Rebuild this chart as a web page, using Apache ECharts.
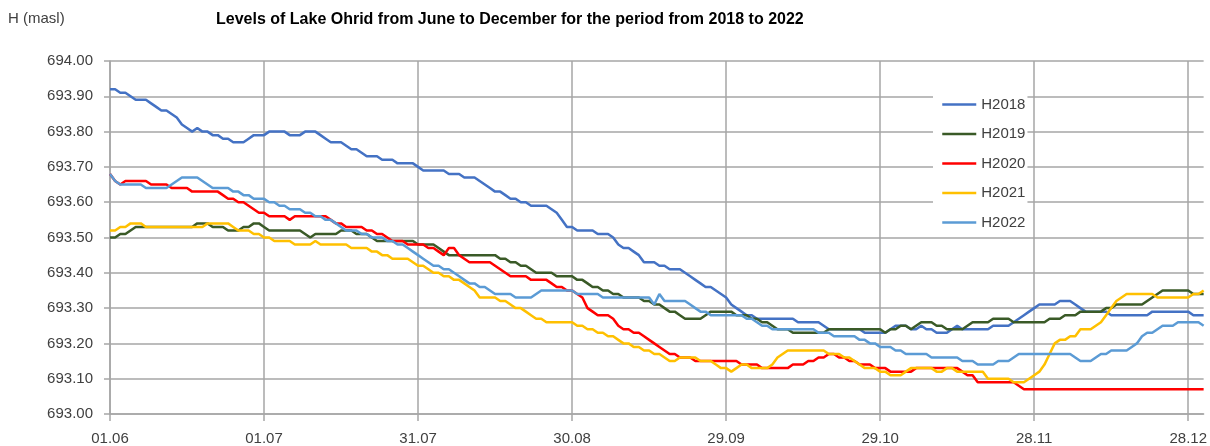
<!DOCTYPE html>
<html>
<head>
<meta charset="utf-8">
<title>Levels of Lake Ohrid</title>
<script src="https://cdn.jsdelivr.net/npm/echarts@6/dist/echarts.min.js"></script>
<style>
  html, body { margin: 0; padding: 0; background: #fff; }
  #chart { width: 1210px; height: 446px; }
</style>
</head>
<body>
<div id="chart"></div>
<script>
// labels shown on the x axis, one every 30 days starting 01.06
const tickLabels = ['01.06', '01.07', '31.07', '30.08', '29.09', '29.10', '28.11', '28.12']
const seriesNames = ['H2018', 'H2019', 'H2020', 'H2021', 'H2022']

// daily lake level (m a.s.l.), 01.06 .. 31.12
const h2018 = [
  693.92, 693.92, 693.91, 693.91, 693.90, 693.89, 693.89, 693.89, 693.88, 693.87,
  693.86, 693.86, 693.85, 693.84, 693.82, 693.81, 693.80, 693.81, 693.80, 693.80,
  693.79, 693.79, 693.78, 693.78, 693.77, 693.77, 693.77, 693.78, 693.79, 693.79,
  693.79, 693.80, 693.80, 693.80, 693.80, 693.79, 693.79, 693.79, 693.80, 693.80,
  693.80, 693.79, 693.78, 693.77, 693.77, 693.77, 693.76, 693.75, 693.75, 693.74,
  693.73, 693.73, 693.73, 693.72, 693.72, 693.72, 693.71, 693.71, 693.71, 693.71,
  693.70, 693.69, 693.69, 693.69, 693.69, 693.69, 693.68, 693.68, 693.68, 693.67,
  693.67, 693.67, 693.66, 693.65, 693.64, 693.63, 693.63, 693.62, 693.61, 693.61,
  693.60, 693.60, 693.59, 693.59, 693.59, 693.59, 693.58, 693.57, 693.55, 693.53,
  693.53, 693.52, 693.52, 693.52, 693.52, 693.51, 693.51, 693.51, 693.50, 693.48,
  693.47, 693.47, 693.46, 693.45, 693.43, 693.43, 693.43, 693.42, 693.42, 693.41,
  693.41, 693.41, 693.40, 693.39, 693.38, 693.37, 693.36, 693.36, 693.35, 693.34,
  693.33, 693.31, 693.30, 693.29, 693.28, 693.28, 693.27, 693.27, 693.27, 693.27,
  693.27, 693.27, 693.27, 693.27, 693.26, 693.26, 693.26, 693.26, 693.26, 693.25,
  693.24, 693.24, 693.24, 693.24, 693.24, 693.24, 693.24, 693.23, 693.23, 693.23,
  693.23, 693.23, 693.24, 693.25, 693.25, 693.25, 693.24, 693.24, 693.25, 693.24,
  693.24, 693.23, 693.23, 693.23, 693.24, 693.25, 693.24, 693.24, 693.24, 693.24,
  693.24, 693.24, 693.25, 693.25, 693.25, 693.25, 693.26, 693.27, 693.28, 693.29,
  693.30, 693.31, 693.31, 693.31, 693.31, 693.32, 693.32, 693.32, 693.31, 693.30,
  693.29, 693.29, 693.29, 693.29, 693.29, 693.28, 693.28, 693.28, 693.28, 693.28,
  693.28, 693.28, 693.28, 693.29, 693.29, 693.29, 693.29, 693.29, 693.29, 693.29,
  693.29, 693.28, 693.28, 693.28
]
const h2019 = [
  693.50, 693.50, 693.51, 693.51, 693.52, 693.53, 693.53, 693.53, 693.53, 693.53,
  693.53, 693.53, 693.53, 693.53, 693.53, 693.53, 693.53, 693.54, 693.54, 693.54,
  693.53, 693.53, 693.53, 693.52, 693.52, 693.52, 693.53, 693.53, 693.54, 693.54,
  693.53, 693.52, 693.52, 693.52, 693.52, 693.52, 693.52, 693.52, 693.51, 693.50,
  693.51, 693.51, 693.51, 693.51, 693.51, 693.52, 693.52, 693.52, 693.51, 693.51,
  693.51, 693.50, 693.49, 693.49, 693.49, 693.49, 693.49, 693.49, 693.49, 693.49,
  693.48, 693.48, 693.48, 693.48, 693.47, 693.46, 693.45, 693.45, 693.45, 693.45,
  693.45, 693.45, 693.45, 693.45, 693.45, 693.45, 693.44, 693.44, 693.43, 693.43,
  693.42, 693.42, 693.41, 693.40, 693.40, 693.40, 693.40, 693.39, 693.39, 693.39,
  693.39, 693.38, 693.38, 693.37, 693.36, 693.36, 693.35, 693.35, 693.34, 693.34,
  693.33, 693.33, 693.33, 693.33, 693.32, 693.32, 693.31, 693.31, 693.30, 693.29,
  693.29, 693.28, 693.27, 693.27, 693.27, 693.27, 693.28, 693.29, 693.29, 693.29,
  693.29, 693.29, 693.28, 693.28, 693.28, 693.27, 693.27, 693.26, 693.26, 693.25,
  693.24, 693.24, 693.24, 693.23, 693.23, 693.23, 693.23, 693.23, 693.23, 693.23,
  693.24, 693.24, 693.24, 693.24, 693.24, 693.24, 693.24, 693.24, 693.24, 693.24,
  693.24, 693.23, 693.24, 693.24, 693.25, 693.25, 693.24, 693.25, 693.26, 693.26,
  693.26, 693.25, 693.25, 693.24, 693.24, 693.24, 693.24, 693.25, 693.26, 693.26,
  693.26, 693.26, 693.27, 693.27, 693.27, 693.27, 693.26, 693.26, 693.26, 693.26,
  693.26, 693.26, 693.26, 693.27, 693.27, 693.27, 693.28, 693.28, 693.28, 693.29,
  693.29, 693.29, 693.29, 693.29, 693.30, 693.30, 693.31, 693.31, 693.31, 693.31,
  693.31, 693.31, 693.32, 693.33, 693.34, 693.35, 693.35, 693.35, 693.35, 693.35,
  693.35, 693.34, 693.34, 693.34
]
const h2020 = [
  693.68, 693.66, 693.65, 693.66, 693.66, 693.66, 693.66, 693.66, 693.65, 693.65,
  693.65, 693.65, 693.64, 693.64, 693.64, 693.64, 693.63, 693.63, 693.63, 693.63,
  693.63, 693.63, 693.62, 693.61, 693.61, 693.60, 693.60, 693.59, 693.58, 693.57,
  693.57, 693.56, 693.56, 693.56, 693.56, 693.55, 693.56, 693.56, 693.56, 693.56,
  693.56, 693.56, 693.56, 693.55, 693.54, 693.54, 693.53, 693.53, 693.53, 693.53,
  693.52, 693.52, 693.51, 693.51, 693.50, 693.49, 693.49, 693.49, 693.48, 693.48,
  693.48, 693.48, 693.47, 693.47, 693.46, 693.45, 693.47, 693.47, 693.45, 693.44,
  693.43, 693.43, 693.43, 693.43, 693.43, 693.42, 693.41, 693.40, 693.39, 693.39,
  693.39, 693.39, 693.38, 693.38, 693.38, 693.38, 693.37, 693.36, 693.36, 693.35,
  693.35, 693.34, 693.33, 693.30, 693.29, 693.28, 693.28, 693.28, 693.27, 693.25,
  693.24, 693.24, 693.23, 693.23, 693.22, 693.21, 693.20, 693.19, 693.18, 693.17,
  693.17, 693.16, 693.16, 693.16, 693.15, 693.15, 693.15, 693.15, 693.15, 693.15,
  693.15, 693.15, 693.15, 693.14, 693.14, 693.14, 693.14, 693.13, 693.13, 693.13,
  693.13, 693.13, 693.13, 693.14, 693.14, 693.14, 693.15, 693.15, 693.16, 693.16,
  693.17, 693.17, 693.16, 693.16, 693.15, 693.15, 693.14, 693.14, 693.14, 693.13,
  693.13, 693.13, 693.12, 693.12, 693.12, 693.12, 693.12, 693.13, 693.13, 693.13,
  693.13, 693.13, 693.13, 693.13, 693.13, 693.13, 693.12, 693.11, 693.11, 693.09,
  693.09, 693.09, 693.09, 693.09, 693.09, 693.09, 693.09, 693.08, 693.07, 693.07,
  693.07, 693.07, 693.07, 693.07, 693.07, 693.07, 693.07, 693.07, 693.07, 693.07,
  693.07, 693.07, 693.07, 693.07, 693.07, 693.07, 693.07, 693.07, 693.07, 693.07,
  693.07, 693.07, 693.07, 693.07, 693.07, 693.07, 693.07, 693.07, 693.07, 693.07,
  693.07, 693.07, 693.07, 693.07
]
const h2021 = [
  693.52, 693.52, 693.53, 693.53, 693.54, 693.54, 693.54, 693.53, 693.53, 693.53,
  693.53, 693.53, 693.53, 693.53, 693.53, 693.53, 693.53, 693.53, 693.53, 693.54,
  693.54, 693.54, 693.54, 693.54, 693.53, 693.52, 693.52, 693.52, 693.51, 693.51,
  693.50, 693.50, 693.49, 693.49, 693.49, 693.49, 693.48, 693.48, 693.48, 693.48,
  693.49, 693.48, 693.48, 693.48, 693.48, 693.48, 693.48, 693.47, 693.47, 693.47,
  693.47, 693.46, 693.46, 693.45, 693.45, 693.44, 693.44, 693.44, 693.44, 693.43,
  693.42, 693.42, 693.41, 693.40, 693.40, 693.39, 693.39, 693.38, 693.38, 693.37,
  693.36, 693.35, 693.33, 693.33, 693.33, 693.33, 693.32, 693.32, 693.31, 693.30,
  693.30, 693.29, 693.28, 693.27, 693.27, 693.26, 693.26, 693.26, 693.26, 693.26,
  693.26, 693.25, 693.25, 693.24, 693.24, 693.23, 693.23, 693.22, 693.22, 693.21,
  693.20, 693.20, 693.19, 693.19, 693.18, 693.18, 693.17, 693.17, 693.16, 693.15,
  693.15, 693.16, 693.16, 693.16, 693.16, 693.15, 693.15, 693.15, 693.14, 693.13,
  693.13, 693.12, 693.13, 693.14, 693.14, 693.13, 693.13, 693.13, 693.13, 693.14,
  693.16, 693.17, 693.18, 693.18, 693.18, 693.18, 693.18, 693.18, 693.18, 693.18,
  693.17, 693.17, 693.17, 693.16, 693.16, 693.15, 693.14, 693.13, 693.13, 693.13,
  693.12, 693.12, 693.11, 693.11, 693.11, 693.12, 693.13, 693.13, 693.13, 693.13,
  693.13, 693.12, 693.12, 693.13, 693.13, 693.12, 693.12, 693.12, 693.12, 693.12,
  693.12, 693.10, 693.10, 693.10, 693.10, 693.10, 693.09, 693.09, 693.09, 693.10,
  693.11, 693.12, 693.14, 693.17, 693.20, 693.21, 693.21, 693.22, 693.22, 693.24,
  693.24, 693.24, 693.25, 693.26, 693.28, 693.30, 693.32, 693.33, 693.34, 693.34,
  693.34, 693.34, 693.34, 693.34, 693.33, 693.33, 693.33, 693.33, 693.33, 693.33,
  693.33, 693.34, 693.34, 693.35
]
const h2022 = [
  693.68, 693.66, 693.65, 693.65, 693.65, 693.65, 693.65, 693.64, 693.64, 693.64,
  693.64, 693.64, 693.65, 693.66, 693.67, 693.67, 693.67, 693.67, 693.66, 693.65,
  693.64, 693.64, 693.64, 693.64, 693.63, 693.63, 693.62, 693.62, 693.61, 693.61,
  693.61, 693.60, 693.60, 693.59, 693.59, 693.58, 693.58, 693.58, 693.57, 693.57,
  693.56, 693.56, 693.55, 693.55, 693.54, 693.53, 693.52, 693.52, 693.52, 693.51,
  693.51, 693.50, 693.50, 693.50, 693.49, 693.49, 693.48, 693.48, 693.47, 693.46,
  693.45, 693.44, 693.43, 693.42, 693.42, 693.41, 693.41, 693.40, 693.39, 693.38,
  693.37, 693.37, 693.36, 693.36, 693.35, 693.34, 693.34, 693.34, 693.34, 693.33,
  693.33, 693.33, 693.33, 693.34, 693.35, 693.35, 693.35, 693.35, 693.35, 693.35,
  693.35, 693.34, 693.34, 693.34, 693.34, 693.34, 693.33, 693.33, 693.33, 693.33,
  693.33, 693.33, 693.33, 693.33, 693.33, 693.33, 693.31, 693.34, 693.32, 693.32,
  693.32, 693.32, 693.32, 693.31, 693.30, 693.29, 693.29, 693.28, 693.28, 693.28,
  693.28, 693.28, 693.28, 693.28, 693.27, 693.27, 693.26, 693.25, 693.25, 693.24,
  693.24, 693.24, 693.24, 693.24, 693.24, 693.24, 693.24, 693.24, 693.23, 693.23,
  693.23, 693.22, 693.22, 693.22, 693.22, 693.22, 693.21, 693.21, 693.20, 693.20,
  693.19, 693.19, 693.19, 693.18, 693.18, 693.17, 693.17, 693.17, 693.17, 693.17,
  693.16, 693.16, 693.16, 693.16, 693.16, 693.16, 693.15, 693.15, 693.15, 693.14,
  693.14, 693.14, 693.14, 693.15, 693.15, 693.15, 693.16, 693.17, 693.17, 693.17,
  693.17, 693.17, 693.17, 693.17, 693.17, 693.17, 693.17, 693.17, 693.16, 693.15,
  693.15, 693.15, 693.16, 693.17, 693.17, 693.18, 693.18, 693.18, 693.18, 693.19,
  693.20, 693.22, 693.23, 693.23, 693.24, 693.25, 693.25, 693.25, 693.26, 693.26,
  693.26, 693.26, 693.26, 693.25
]

const seriesData = [h2018, h2019, h2020, h2021, h2022]
const colors = ['#4472C4', '#3A5A27', '#FF0000', '#FFC000', '#5B9BD5']

// one category per day: 01.06, 02.06, ...
const days = []
const start = new Date(2001, 5, 1)
for (let i = 0; i < h2018.length; i++) {
  const d = new Date(start.getTime() + i * 86400000)
  days.push(String(d.getDate()).padStart(2, '0') + '.' + String(d.getMonth() + 1).padStart(2, '0'))
}

const every30 = (index) => index % 30 === 0
const font = 'Liberation Sans, Arial, sans-serif'
const gridColor = '#a6a6a6'

const chart = echarts.init(document.getElementById('chart'), null, { renderer: 'canvas' })

chart.setOption({
  animation: false,
  backgroundColor: '#fff',
  textStyle: { fontFamily: font },
  title: [
    {
      text: 'Levels of Lake Ohrid from June to December for the period from 2018 to 2022',
      left: 211,
      top: 7,
      textStyle: { fontSize: 16, fontWeight: 'bold', color: '#000', fontFamily: font }
    },
    {
      text: 'H (masl)',
      left: 3,
      top: 6,
      textStyle: { fontSize: 15, fontWeight: 'normal', color: '#404040', fontFamily: font }
    }
  ],
  legend: {
    data: seriesNames,
    orient: 'vertical',
    left: 933,
    top: 91,
    padding: [6, 2, 6, 8],
    backgroundColor: '#fff',
    itemWidth: 34,
    itemHeight: 14,
    itemGap: 14.5,
    itemStyle: { opacity: 0 },
    lineStyle: { width: 2.5 },
    textStyle: { fontSize: 15, color: '#404040', fontFamily: font }
  },
  grid: {
    left: 110,
    right: 1,
    top: 61,
    bottom: 32
  },
  xAxis: {
    type: 'category',
    data: days,
    boundaryGap: false,
    axisLine: { lineStyle: { color: gridColor, width: 1.5 } },
    axisTick: { interval: every30, length: 7, lineStyle: { color: gridColor, width: 1.5 } },
    axisLabel: {
      interval: every30,
      margin: 17,
      fontSize: 15,
      color: '#404040',
      formatter: (value, index) => tickLabels[index / 30] ?? value
    },
    splitLine: { show: true, interval: every30, lineStyle: { color: gridColor, width: 1.5 } }
  },
  yAxis: {
    type: 'value',
    min: 693,
    max: 694,
    interval: 0.1,
    axisLine: { show: true, lineStyle: { color: gridColor, width: 1.5 } },
    axisTick: { show: true, length: 6, lineStyle: { color: gridColor, width: 1.5 } },
    axisLabel: {
      margin: 17,
      fontSize: 15,
      color: '#404040',
      formatter: v => v.toFixed(2)
    },
    splitLine: { lineStyle: { color: gridColor, width: 1.5 } }
  },
  series: seriesNames.map((name, i) => ({
    name,
    type: 'line',
    data: seriesData[i],
    symbol: 'none',
    color: colors[i],
    lineStyle: { width: 2.5, color: colors[i] }
  }))
})
</script>
</body>
</html>
